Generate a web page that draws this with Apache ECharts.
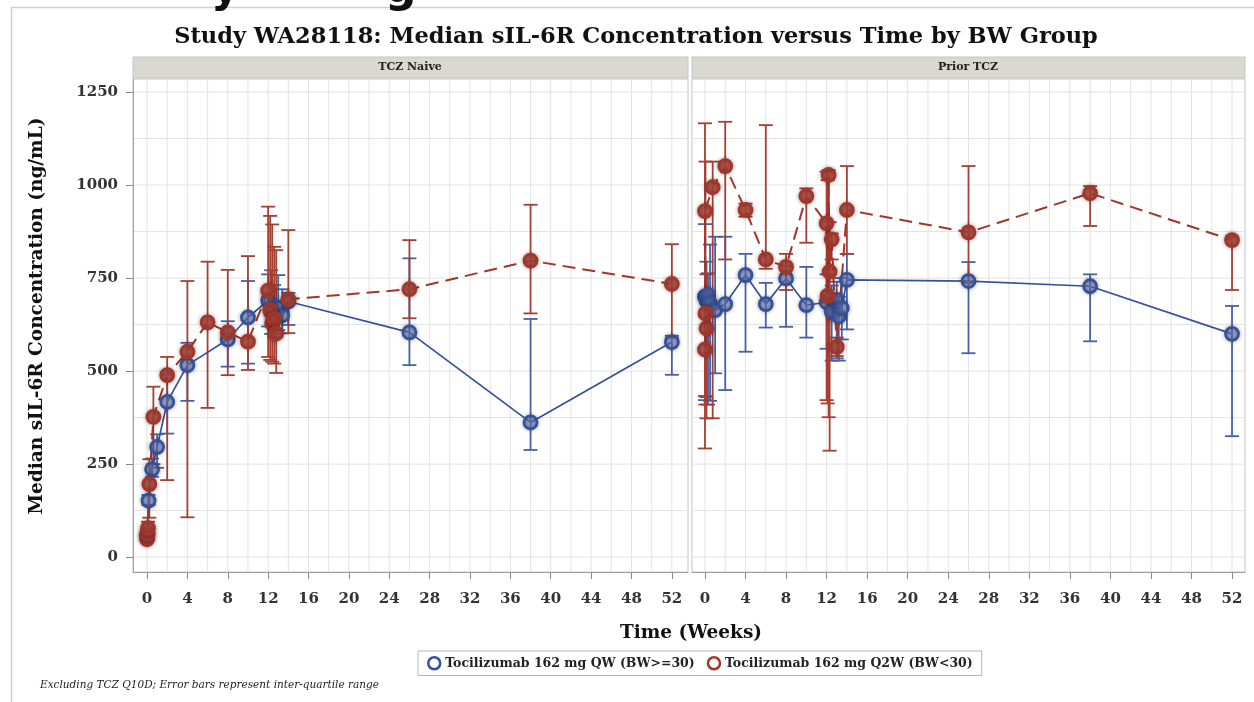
<!DOCTYPE html>
<html>
<head>
<meta charset="utf-8">
<script src="https://cdn.jsdelivr.net/npm/echarts@6/dist/echarts.min.js"></script>
<style>
html,body{margin:0;padding:0;background:#fff;}
#chart{width:1254px;height:702px;}
</style>
</head>
<body>
<div id="chart"></div>
<script>
// ---------- Data ----------
const xTickWeeks = [0, 4, 8, 12, 16, 20, 24, 28, 32, 36, 40, 44, 48, 52];
const yTickValues = [0, 250, 500, 750, 1000, 1250];
const gridWeeks = [0, 2, 4, 6, 8, 10, 12, 14, 16, 18, 20, 22, 24, 26, 28, 30, 32, 34, 36, 38, 40, 42, 44, 46, 48, 50, 52];
const gridConc = [0, 125, 250, 375, 500, 625, 750, 875, 1000, 1125, 1250];

// Panel: TCZ Naive — Tocilizumab 162 mg QW (BW>=30)
const weeksNaiveQW = [0, 0.15, 0.5, 1, 2, 4, 8, 10, 12, 12.3, 12.6, 13, 13.4, 14, 26, 38, 52];
const medNaiveQW   = [58, 152, 236, 296, 417, 516, 585, 644, 690, 660, 640, 670, 650, 687, 604, 362, 578];
const q1NaiveQW    = [45, 140, 216, 240, 332, 420, 512, 520, 620, 600, 590, 610, 601, 624, 516, 288, 490];
const q3NaiveQW    = [70, 167, 265, 330, 490, 576, 634, 742, 760, 771, 731, 758, 720, 710, 803, 640, 595];

// Panel: TCZ Naive — Tocilizumab 162 mg Q2W (BW<30)
const weeksNaiveQ2W = [0, 0.05, 0.1, 0.23, 0.63, 2, 4, 6, 8, 10, 12, 12.2, 12.4, 12.6, 12.8, 14, 26, 38, 52];
const medNaiveQ2W   = [48, 62, 78, 196, 377, 489, 552, 631, 604, 579, 716, 664, 628, 640, 601, 693, 720, 797, 734];
const q1NaiveQ2W    = [40, 50, 60, 106, 250, 207, 107, 401, 489, 503, 538, 530, 525, 520, 495, 602, 642, 655, 590];
const q3NaiveQ2W    = [60, 75, 95, 263, 458, 538, 742, 794, 772, 809, 942, 917, 894, 834, 825, 879, 852, 947, 841];

// Panel: Prior TCZ — Tocilizumab 162 mg QW (BW>=30)
const weeksPriorQW = [0, 0.15, 0.3, 0.5, 1, 2, 4, 6, 8, 10, 12, 12.5, 13, 13.2, 13.5, 14, 26, 38, 52];
const medPriorQW   = [700, 690, 705, 682, 664, 680, 758, 680, 749, 677, 685, 660, 691, 647, 669, 745, 742, 728, 600];
const q1PriorQW    = [422, 430, 410, 420, 494, 449, 552, 617, 619, 590, 560, 528, 534, 528, 585, 612, 548, 580, 325];
const q3PriorQW    = [895, 794, 763, 840, 861, 861, 815, 737, 782, 780, 760, 730, 740, 700, 750, 815, 793, 760, 675];

// Panel: Prior TCZ — Tocilizumab 162 mg Q2W (BW<30)
const weeksPriorQ2W = [0, 0.15, 0.05, 0, 0.76, 2, 4, 6, 8, 10, 12, 12.1, 12.2, 12.3, 12.5, 13, 14, 26, 38, 52];
const medPriorQ2W   = [558, 615, 655, 930, 994, 1051, 933, 800, 780, 970, 897, 702, 1027, 767, 854, 565, 933, 873, 978, 852];
const q1PriorQ2W    = [292, 373, 410, 433, 373, 800, 915, 775, 718, 845, 422, 413, 376, 286, 800, 540, 815, 737, 890, 718];
const q3PriorQ2W    = [700, 760, 1063, 1166, 1063, 1170, 950, 1161, 815, 991, 1036, 1013, 1040, 900, 870, 590, 1051, 1051, 997, 862];

const seriesNameQW = 'Tocilizumab 162 mg QW (BW>=30)';
const seriesNameQ2W = 'Tocilizumab 162 mg Q2W (BW<30)';

// ---------- Styling ----------
const BLUE = '#36519c';
const RED = '#a3352a';
const SERIF = '"DejaVu Serif", "Liberation Serif", serif';
const Y_MIN = -40, Y_MAX = 1285;
const panels = [
  { xMin: -1.39, xMax: 53.6 },
  { xMin: -1.28, xMax: 53.28 }
];

function pairs(w, v) { return w.map((t, i) => [t, v[i]]); }
function triples(w, lo, hi) { return w.map((t, i) => [t, lo[i], hi[i]]); }

function errorSeries(gridIdx, data, color) {
  return {
    type: 'custom', xAxisIndex: gridIdx, yAxisIndex: gridIdx, z: 2, silent: true,
    encode: { x: 0, y: [1, 2] },
    data: data,
    renderItem: function (params, api) {
      const x = api.value(0), lo = api.value(1), hi = api.value(2);
      const a = api.coord([x, lo]), b = api.coord([x, hi]);
      const hw = 7;
      const st = { stroke: color, lineWidth: 1.8 };
      return { type: 'group', children: [
        { type: 'line', shape: { x1: a[0], y1: a[1], x2: b[0], y2: b[1] }, style: st },
        { type: 'line', shape: { x1: a[0] - hw, y1: a[1], x2: a[0] + hw, y2: a[1] }, style: st },
        { type: 'line', shape: { x1: b[0] - hw, y1: b[1], x2: b[0] + hw, y2: b[1] }, style: st }
      ]};
    }
  };
}

function lineSeries(gridIdx, name, data, color, fill, dashed) {
  return {
    type: 'line', name: name, xAxisIndex: gridIdx, yAxisIndex: gridIdx, z: 3,
    data: data, symbol: 'circle', symbolSize: 13, showAllSymbol: true,
    lineStyle: { color: color, width: dashed ? 2 : 1.7, type: dashed ? [13, 7] : 'solid' },
    itemStyle: { color: fill, borderColor: color, borderWidth: 2.8,
                 shadowBlur: 4, shadowColor: 'rgba(0,0,0,0.35)' },
    emphasis: { disabled: true }
  };
}

function vGridSeries(gridIdx) {
  return {
    type: 'custom', xAxisIndex: gridIdx, yAxisIndex: gridIdx, z: 0, silent: true,
    encode: { x: 0 },
    data: gridWeeks.map(w => [w]),
    renderItem: function (params, api) {
      const w = api.value(0);
      const a = api.coord([w, Y_MIN]), b = api.coord([w, Y_MAX]);
      return { type: 'line', shape: { x1: a[0], y1: a[1], x2: b[0], y2: b[1] },
               style: { stroke: '#e3e3e3', lineWidth: 1 } };
    }
  };
}
function hGridSeries(gridIdx) {
  const p = panels[gridIdx];
  return {
    type: 'custom', xAxisIndex: gridIdx, yAxisIndex: gridIdx, z: 0, silent: true,
    encode: { y: 0 },
    data: gridConc.map(v => [v]),
    renderItem: function (params, api) {
      const v = api.value(0);
      const a = api.coord([p.xMin, v]), b = api.coord([p.xMax, v]);
      return { type: 'line', shape: { x1: a[0], y1: a[1], x2: b[0], y2: b[1] },
               style: { stroke: '#e3e3e3', lineWidth: 1 } };
    }
  };
}

const axisLabelStyle = { fontFamily: SERIF, fontWeight: 'bold', fontSize: 15, color: '#333' };

const xAxes = panels.map((p, i) => ({
  type: 'value', gridIndex: i, min: p.xMin, max: p.xMax,
  axisLine: { show: true, onZero: false, lineStyle: { color: '#a0a0a0' } },
  axisTick: { show: true, customValues: xTickWeeks, length: 7, lineStyle: { color: '#888' } },
  axisLabel: Object.assign({ customValues: xTickWeeks, margin: 20, formatter: v => String(v) }, axisLabelStyle),
  splitLine: { show: false }
}));
const yAxes = panels.map((p, i) => ({
  type: 'value', gridIndex: i, min: Y_MIN, max: Y_MAX,
  axisLine: { show: i === 0, onZero: false, lineStyle: { color: '#a0a0a0' } },
  axisTick: { show: i === 0, customValues: yTickValues, length: 7, lineStyle: { color: '#888' } },
  axisLabel: Object.assign({ show: i === 0, customValues: yTickValues, margin: 15, formatter: v => String(v) }, axisLabelStyle),
  splitLine: { show: false }
}));

const chart = echarts.init(document.getElementById('chart'), null, { renderer: 'canvas' });
chart.setOption({
  animation: false,
  backgroundColor: '#ffffff',
  grid: [
    { left: 133, top: 79, width: 555, height: 493, show: true, borderColor: '#c4c4c4', borderWidth: 1 },
    { left: 692, top: 79, width: 553, height: 493, show: true, borderColor: '#c4c4c4', borderWidth: 1 }
  ],
  xAxis: xAxes,
  yAxis: yAxes,
  legend: {
    left: 418, top: 651, orient: 'horizontal',
    padding: [5, 9, 5, 9], itemGap: 12, itemWidth: 12, itemHeight: 12,
    borderColor: '#b5b5b5', borderWidth: 1,
    textStyle: { fontFamily: SERIF, fontWeight: 'bold', fontSize: 12.5, color: '#222' },
    data: [
      { name: seriesNameQW, icon: 'circle', itemStyle: { color: '#ffffff', borderColor: BLUE, borderWidth: 2.5 } },
      { name: seriesNameQ2W, icon: 'circle', itemStyle: { color: '#ffffff', borderColor: RED, borderWidth: 2.5 } }
    ]
  },
  series: [
    vGridSeries(0), hGridSeries(0), vGridSeries(1), hGridSeries(1),
    errorSeries(0, triples(weeksNaiveQW, q1NaiveQW, q3NaiveQW), '#4560a6'),
    errorSeries(0, triples(weeksNaiveQ2W, q1NaiveQ2W, q3NaiveQ2W), '#a63f32'),
    errorSeries(1, triples(weeksPriorQW, q1PriorQW, q3PriorQW), '#4560a6'),
    errorSeries(1, triples(weeksPriorQ2W, q1PriorQ2W, q3PriorQ2W), '#a63f32'),
    lineSeries(0, seriesNameQW, pairs(weeksNaiveQW, medNaiveQW), BLUE, 'rgba(110,130,195,0.6)', false),
    lineSeries(0, seriesNameQ2W, pairs(weeksNaiveQ2W, medNaiveQ2W), RED, 'rgba(175,70,58,0.85)', true),
    lineSeries(1, seriesNameQW, pairs(weeksPriorQW, medPriorQW), BLUE, 'rgba(110,130,195,0.6)', false),
    lineSeries(1, seriesNameQ2W, pairs(weeksPriorQ2W, medPriorQ2W), RED, 'rgba(175,70,58,0.85)', true)
  ],
  graphic: [
    // outer frame lines
    { type: 'line', shape: { x1: 11, y1: 7.5, x2: 1254, y2: 7.5 }, style: { stroke: '#cfcfcf', lineWidth: 1.5 }, z: 1 },
    { type: 'line', shape: { x1: 11.5, y1: 7, x2: 11.5, y2: 702 }, style: { stroke: '#cfcfcf', lineWidth: 1.5 }, z: 1 },
    // cut-off heading descenders at the very top
    { type: 'text', x: 211, y: 13, style: { text: 'y', font: 'bold 44px "DejaVu Sans", sans-serif', fill: '#111', textVerticalAlign: 'bottom' }, z: 2 },
    { type: 'text', x: 385, y: 13, style: { text: 'g', font: 'bold 44px "DejaVu Sans", sans-serif', fill: '#111', textVerticalAlign: 'bottom' }, z: 2 },
    // title
    { type: 'text', x: 636, y: 37, style: { text: 'Study WA28118: Median sIL-6R Concentration versus Time by BW Group',
      font: 'bold 22.5px ' + SERIF, fill: '#111', textAlign: 'center', textVerticalAlign: 'middle' }, z: 5 },
    // strip headers
    { type: 'rect', shape: { x: 133, y: 57, width: 555, height: 21 }, style: { fill: '#d9d9d1', stroke: '#c4c4c4', lineWidth: 1 }, z: 5 },
    { type: 'rect', shape: { x: 692, y: 57, width: 553, height: 21 }, style: { fill: '#d9d9d1', stroke: '#c4c4c4', lineWidth: 1 }, z: 5 },
    { type: 'text', x: 410, y: 67.5, style: { text: 'TCZ Naive', font: 'bold 11px ' + SERIF, fill: '#222', textAlign: 'center', textVerticalAlign: 'middle' }, z: 6 },
    { type: 'text', x: 968, y: 67.5, style: { text: 'Prior TCZ', font: 'bold 11px ' + SERIF, fill: '#222', textAlign: 'center', textVerticalAlign: 'middle' }, z: 6 },
    // axis titles
    { type: 'text', x: 37, y: 316, rotation: Math.PI / 2, style: { text: 'Median sIL-6R Concentration (ng/mL)',
      font: 'bold 18.5px ' + SERIF, fill: '#111', textAlign: 'center', textVerticalAlign: 'middle' }, z: 5 },
    { type: 'text', x: 691, y: 633, style: { text: 'Time (Weeks)', font: 'bold 18.5px ' + SERIF, fill: '#111', textAlign: 'center', textVerticalAlign: 'middle' }, z: 5 },
    // footnote
    { type: 'text', x: 40, y: 685, style: { text: 'Excluding TCZ Q10D; Error bars represent inter-quartile range',
      font: 'italic 10.5px ' + SERIF, fill: '#222', textAlign: 'left', textVerticalAlign: 'middle' }, z: 5 }
  ]
});
</script>
</body>
</html>
